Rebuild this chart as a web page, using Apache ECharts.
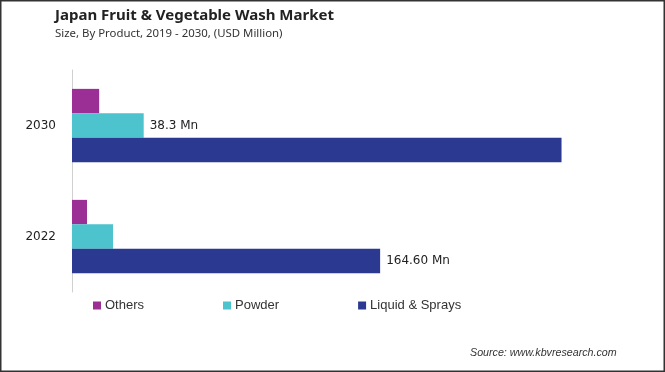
<!DOCTYPE html>
<html><head><meta charset="utf-8">
<script src="https://cdn.jsdelivr.net/npm/echarts@6/dist/echarts.min.js"></script>
<style>html,body{margin:0;padding:0;background:#fff}#c{width:665px;height:372px}</style>
</head><body><div id="c"></div>
<script>
const categories = ['2022', '2030'];
const seriesNames = ['Others', 'Powder', 'Liquid & Sprays'];
const others = [8.0, 14.5];
const powder = [21.9, 38.3];
const liquid = [164.6, 261.5];
const labelText = { powder: [null, '38.3 Mn'], liquid: ['164.60 Mn', null] };
const colors = { Others: '#9B2F96', Powder: '#4DC3CE', 'Liquid & Sprays': '#2B3990' };

const chart = echarts.init(document.getElementById('c'), null, { renderer: 'canvas' });
function lab(texts) {
  return {
    show: true, position: 'right', distance: 6,
    fontFamily: 'DejaVu Sans', fontSize: 12, color: '#222',
    formatter: p => texts[p.dataIndex] || ''
  };
}
chart.setOption({
  animation: false,
  title: [
    { text: 'Japan Fruit & Vegetable Wash Market', left: 50, top: 3,
      textStyle: { fontFamily: 'Noto Sans', fontWeight: 'bold', fontSize: 15, color: '#222' } },
    { text: 'Size, By Product, 2019 - 2030, (USD Million)', left: 50, top: 23,
      textStyle: { fontFamily: 'Noto Sans', fontWeight: 'normal', fontSize: 11.4, color: '#333' } },
    { text: 'Source: www.kbvresearch.com', left: 465, top: 343,
      textStyle: { fontFamily: 'Liberation Sans', fontStyle: 'italic', fontWeight: 'normal', fontSize: 10.7, color: '#333' } }
  ],
  legend: {
    data: seriesNames, left: 88, top: 294, itemWidth: 8, itemHeight: 8, itemGap: 79,
    icon: 'rect', textStyle: { fontFamily: 'Liberation Sans', fontSize: 13, color: '#333', padding: [0, 0, 0, -1] }
  },
  grid: { left: 72, top: 70, width: 500, height: 222, containLabel: false },
  xAxis: { type: 'value', min: 0, max: 500 / 1.872, show: false },
  yAxis: {
    type: 'category', data: categories,
    axisLine: { show: true, lineStyle: { color: '#d0d0d0', width: 1 } },
    axisTick: { show: false },
    axisLabel: { margin: 16, fontFamily: 'DejaVu Sans', fontSize: 12, color: '#222' }
  },
  series: [
    { name: 'Others', type: 'bar', data: others, barGap: '0%', barCategoryGap: '34%',
      itemStyle: { color: colors.Others } },
    { name: 'Powder', type: 'bar', data: powder,
      itemStyle: { color: colors.Powder }, label: lab(labelText.powder) },
    { name: 'Liquid & Sprays', type: 'bar', data: liquid,
      itemStyle: { color: colors['Liquid & Sprays'] }, label: lab(labelText.liquid) }
  ],
  graphic: [
    { type: 'rect', shape: { x: 0.75, y: 0.75, width: 663.5, height: 370.5 }, silent: true,
      style: { fill: 'none', stroke: '#333', lineWidth: 1.5 } }
  ]
});
</script></body></html>
